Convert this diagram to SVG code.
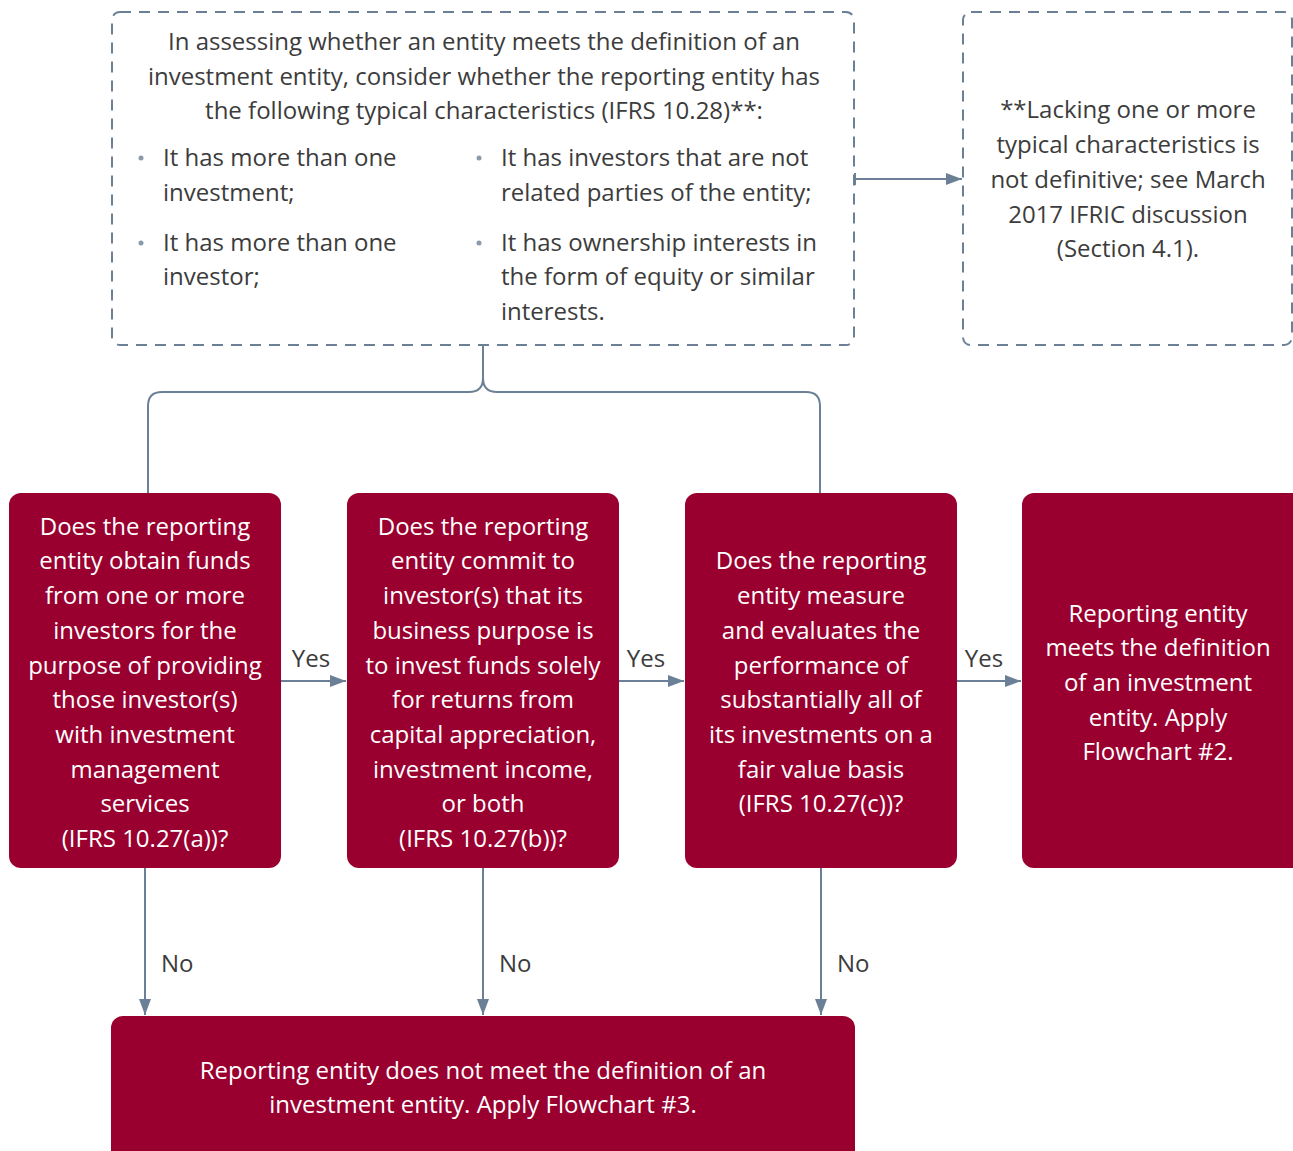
<svg xmlns="http://www.w3.org/2000/svg" width="1293" height="1151" viewBox="0 0 1293 1151">
<defs>
<marker id="ah2" markerWidth="16" markerHeight="12" refX="16" refY="6" orient="auto" markerUnits="userSpaceOnUse">
<path d="M0,0 L16,6 L0,12 Z" fill="#6b8096"/>
</marker>
<marker id="tick" markerWidth="2" markerHeight="12" refX="1" refY="6" orient="auto" markerUnits="userSpaceOnUse">
<rect x="0" y="0" width="2" height="12" fill="#6b8096"/>
</marker>
</defs>
<style>
.dash{fill:#fff;stroke:#6b8096;stroke-width:2;stroke-dasharray:11,8}
.red{fill:#99002f}
.t{font-family:"Open Sans","Noto Sans",sans-serif;font-size:24px;fill:#3c3c3c}
.w{font-family:"Open Sans","Noto Sans",sans-serif;font-size:24px;fill:#fff;text-anchor:middle}
.c{text-anchor:middle}
.ln{fill:none;stroke:#6b8096;stroke-width:2}
.bul{fill:#8a9aab}
</style>
<rect width="1293" height="1151" fill="#fff"/>
<g id="connectors">
<path class="ln" d="M483,346 V378 Q483,392 469,392 H162 Q148,392 148,406 V493"/>
<path class="ln" d="M483,378 Q483,392 497,392 H806 Q820,392 820,406 V493"/>
<path class="ln" d="M855,179 H962" marker-start="url(#tick)" marker-end="url(#ah2)"/>
<path class="ln" d="M281,681 H346" marker-end="url(#ah2)"/>
<path class="ln" d="M619,681 H684" marker-end="url(#ah2)"/>
<path class="ln" d="M957,681 H1021" marker-end="url(#ah2)"/>
<path class="ln" d="M145,868 V1015" marker-end="url(#ah2)"/>
<path class="ln" d="M483,868 V1015" marker-end="url(#ah2)"/>
<path class="ln" d="M821,868 V1015" marker-end="url(#ah2)"/>
<text class="t c" x="311" y="667">Yes</text>
<text class="t c" x="646" y="667">Yes</text>
<text class="t c" x="984" y="667">Yes</text>
<text class="t" x="161" y="972">No</text>
<text class="t" x="499" y="972">No</text>
<text class="t" x="837" y="972">No</text>
</g>
<g id="characteristics">
<rect class="dash" x="112" y="12" width="742" height="333" rx="8"/>
<text class="t c" x="484" y="50">In assessing whether an entity meets the definition of an</text>
<text class="t c" x="484" y="85">investment entity, consider whether the reporting entity has</text>
<text class="t c" x="484" y="119">the following typical characteristics (IFRS 10.28)**:</text>
<circle class="bul" cx="141" cy="158" r="2.5"/>
<text class="t" x="163" y="166">It has more than one</text>
<text class="t" x="163" y="201">investment;</text>
<circle class="bul" cx="141" cy="243" r="2.5"/>
<text class="t" x="163" y="251">It has more than one</text>
<text class="t" x="163" y="285">investor;</text>
<circle class="bul" cx="479" cy="158" r="2.5"/>
<text class="t" x="501" y="166">It has investors that are not</text>
<text class="t" x="501" y="201">related parties of the entity;</text>
<circle class="bul" cx="479" cy="243" r="2.5"/>
<text class="t" x="501" y="251">It has ownership interests in</text>
<text class="t" x="501" y="285">the form of equity or similar</text>
<text class="t" x="501" y="320">interests.</text>
</g>
<g id="note">
<rect class="dash" x="963" y="12" width="329" height="333" rx="8"/>
<text class="t c" x="1128" y="118">**Lacking one or more</text>
<text class="t c" x="1128" y="153">typical characteristics is</text>
<text class="t c" x="1128" y="188">not definitive; see March</text>
<text class="t c" x="1128" y="223">2017 IFRIC discussion</text>
<text class="t c" x="1128" y="257">(Section 4.1).</text>
</g>
<g id="q1">
<rect class="red" x="9" y="493" width="272" height="375" rx="12"/>
<text class="w" x="145" y="535">Does the reporting</text>
<text class="w" x="145" y="569">entity obtain funds</text>
<text class="w" x="145" y="604">from one or more</text>
<text class="w" x="145" y="639">investors for the</text>
<text class="w" x="145" y="674">purpose of providing</text>
<text class="w" x="145" y="708">those investor(s)</text>
<text class="w" x="145" y="743">with investment</text>
<text class="w" x="145" y="778">management</text>
<text class="w" x="145" y="812">services</text>
<text class="w" x="145" y="847">(IFRS 10.27(a))?</text>
</g>
<g id="q2">
<rect class="red" x="347" y="493" width="272" height="375" rx="12"/>
<text class="w" x="483" y="535">Does the reporting</text>
<text class="w" x="483" y="569">entity commit to</text>
<text class="w" x="483" y="604">investor(s) that its</text>
<text class="w" x="483" y="639">business purpose is</text>
<text class="w" x="483" y="674">to invest funds solely</text>
<text class="w" x="483" y="708">for returns from</text>
<text class="w" x="483" y="743">capital appreciation,</text>
<text class="w" x="483" y="778">investment income,</text>
<text class="w" x="483" y="812">or both</text>
<text class="w" x="483" y="847">(IFRS 10.27(b))?</text>
</g>
<g id="q3">
<rect class="red" x="685" y="493" width="272" height="375" rx="12"/>
<text class="w" x="821" y="569">Does the reporting</text>
<text class="w" x="821" y="604">entity measure</text>
<text class="w" x="821" y="639">and evaluates the</text>
<text class="w" x="821" y="674">performance of</text>
<text class="w" x="821" y="708">substantially all of</text>
<text class="w" x="821" y="743">its investments on a</text>
<text class="w" x="821" y="778">fair value basis</text>
<text class="w" x="821" y="812">(IFRS 10.27(c))?</text>
</g>
<g id="meets">
<rect class="red" x="1022" y="493" width="283" height="375" rx="12"/>
<text class="w" x="1158" y="622">Reporting entity</text>
<text class="w" x="1158" y="656">meets the definition</text>
<text class="w" x="1158" y="691">of an investment</text>
<text class="w" x="1158" y="726">entity. Apply</text>
<text class="w" x="1158" y="760">Flowchart #2.</text>
</g>
<g id="notmeets">
<rect class="red" x="111" y="1016" width="744" height="150" rx="12"/>
<text class="w" x="483" y="1079">Reporting entity does not meet the definition of an</text>
<text class="w" x="483" y="1113">investment entity. Apply Flowchart #3.</text>
</g>
</svg>
